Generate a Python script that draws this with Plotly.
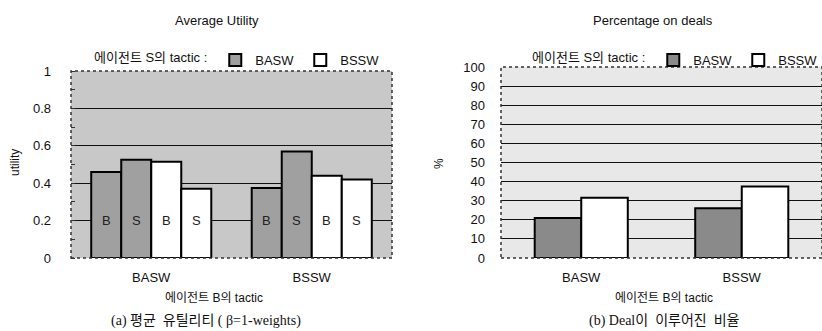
import plotly.graph_objects as go

# ---------------- data ----------------
b_tactics = ["BASW", "BSSW"]                 # x categories (agent B tactic)
s_tactics = ["BASW", "BSSW"]                 # legend (agent S tactic)

# (a) average utility: [agent B utility, agent S utility] per S tactic
util_basw_B = [0.46, 0.375]
util_basw_S = [0.525, 0.57]
util_bssw_B = [0.515, 0.44]
util_bssw_S = [0.37, 0.42]
util_labels = ["B", "S", "B", "S"]

# (b) percentage on deals
deal_basw = [21, 26]
deal_bssw = [31.5, 37.5]

util_ticks = [0, 0.2, 0.4, 0.6, 0.8, 1]
util_ticktext = ["0", "0.2", "0.4", "0.6", "0.8", "1"]
deal_ticks = list(range(0, 101, 10))

# ---------------- style ----------------
W, H = 822, 331
FONT = "Liberation Sans, Arial, Noto Sans CJK KR, sans-serif"
SERIF = "Liberation Serif, Times New Roman, Noto Sans CJK KR, serif"
GRAY_A, WHITE = "#a0a0a0", "#ffffff"
GRAY_B = "#8a8a8a"
BG_A, BG_B = "#c8c8c8", "#e8e8e8"

def px_x(p):
    return p / W

def px_y(p):
    return 1 - p / H

fig = go.Figure()

# left chart bars: 4 adjacent bars per category
wA = 0.187
offsA = [-2 * wA, -wA, 0, wA]
seriesA = [util_basw_B, util_basw_S, util_bssw_B, util_bssw_S]
colorsA = [GRAY_A, GRAY_A, WHITE, WHITE]
namesA = [s_tactics[0], s_tactics[0], s_tactics[1], s_tactics[1]]
showA = [True, False, True, False]
for vals, off, col, nm, sh in zip(seriesA, offsA, colorsA, namesA, showA):
    fig.add_trace(go.Bar(
        x=b_tactics, y=vals, width=wA, offset=off, name=nm, showlegend=sh,
        legend="legend", xaxis="x", yaxis="y",
        marker=dict(color=col, line=dict(color="black", width=2)),
    ))

# right chart bars
wB = 0.29
offsB = [-wB, 0]
for vals, off, col, nm in zip([deal_basw, deal_bssw], offsB, [GRAY_B, WHITE], s_tactics):
    fig.add_trace(go.Bar(
        x=b_tactics, y=vals, width=wB, offset=off, name=nm,
        legend="legend2", xaxis="x2", yaxis="y2",
        marker=dict(color=col, line=dict(color="black", width=2)),
    ))

annotations = []
# B/S labels inside the utility bars
for ci in range(len(b_tactics)):
    for off, lab in zip(offsA, util_labels):
        annotations.append(dict(
            x=ci + off + wA / 2, y=0.2, xref="x", yref="y", text=lab,
            showarrow=False, font=dict(family=FONT, size=13, color="#222")))

def ann(text, x, y, size=13, family=FONT, angle=0):
    annotations.append(dict(text=text, x=px_x(x), y=px_y(y), xref="paper", yref="paper",
                            showarrow=False, textangle=angle,
                            font=dict(family=family, size=size, color="#111"),
                            xanchor="center", yanchor="middle"))

ann("Average Utility", 217, 20)
ann("Percentage on deals", 653, 20)
ann("utility", 15, 162, size=12, angle=-90)
ann("%", 439, 163, size=12, angle=-90)
ann("에이전트 B의 tactic", 214, 298, size=12)
ann("에이전트 B의 tactic", 664, 298, size=12)
ann("(a) 평균  유틸리티 ( β=1-weights)", 206, 321, size=14, family=SERIF)
ann("(b) Deal이  이루어진  비율", 664, 321, size=14, family=SERIF)

xA0, xA1, yTopA, yBot = 71, 392, 71, 258
xB0, xB1, yTopB = 501, 822, 67

shapes = [
    dict(type="rect", xref="x domain", yref="y domain", x0=0, x1=1, y0=0, y1=1,
         line=dict(color="#333", width=1.5, dash="dot"), layer="above"),
    dict(type="rect", xref="x2 domain", yref="y2 domain", x0=0, x1=1, y0=0, y1=1,
         line=dict(color="#333", width=1.5, dash="dot"), layer="above"),
]

axis_font = dict(family=FONT, size=13, color="#111")
leg_common = dict(orientation="h", yanchor="middle", xanchor="left",
                  font=dict(size=13), bgcolor="rgba(0,0,0,0)", itemwidth=30,
                  entrywidth=40, entrywidthmode="pixels",
                  traceorder="normal", tracegroupgap=0)
fig.update_layout(
    width=W, height=H, margin=dict(l=0, r=0, t=0, b=0, autoexpand=False),
    paper_bgcolor="white", barmode="overlay",
    font=dict(family=FONT, size=13, color="#111"),
    annotations=annotations, shapes=shapes,
    xaxis=dict(domain=[px_x(xA0), px_x(xA1)], anchor="y", range=[-0.5, 1.5],
               type="category", showgrid=False, zeroline=False, ticks="",
               tickfont=axis_font, ticklabelstandoff=10, showline=False),
    yaxis=dict(domain=[px_y(yBot), px_y(yTopA)], anchor="x", range=[0, 1],
               tickvals=util_ticks, ticktext=util_ticktext, tickfont=axis_font,
               showgrid=True, gridcolor="#111", gridwidth=1.2, zeroline=False,
               ticks="", ticklabelstandoff=19, showline=False,
               minor=dict(dtick=0.1, ticks="inside", ticklen=4, tickcolor="#333", showgrid=False)),
    xaxis2=dict(domain=[px_x(xB0), px_x(xB1)], anchor="y2", range=[-0.5, 1.5],
                type="category", showgrid=False, zeroline=False, ticks="",
                tickfont=axis_font, ticklabelstandoff=10, showline=False),
    yaxis2=dict(domain=[px_y(yBot), px_y(yTopB)], anchor="x2", range=[0, 100],
                tickvals=deal_ticks, tickfont=axis_font,
                showgrid=True, gridcolor="#111", gridwidth=1.2, zeroline=False,
                ticks="", ticklabelstandoff=15, showline=False),
    legend=dict(x=px_x(92), y=px_y(60),
                title=dict(text="에이전트 S의 tactic :", side="left", font=dict(size=13)),
                **leg_common),
    legend2=dict(x=px_x(530), y=px_y(60),
                 title=dict(text="에이전트 S의 tactic :", side="left", font=dict(size=13)),
                 **leg_common),
)

# plot-area backgrounds
fig.add_shape(type="rect", xref="x domain", yref="y domain", x0=0, x1=1, y0=0, y1=1,
              fillcolor=BG_A, line=dict(width=0), layer="below")
fig.add_shape(type="rect", xref="x2 domain", yref="y2 domain", x0=0, x1=1, y0=0, y1=1,
              fillcolor=BG_B, line=dict(width=0), layer="below")

fig.write_html("out.html")
